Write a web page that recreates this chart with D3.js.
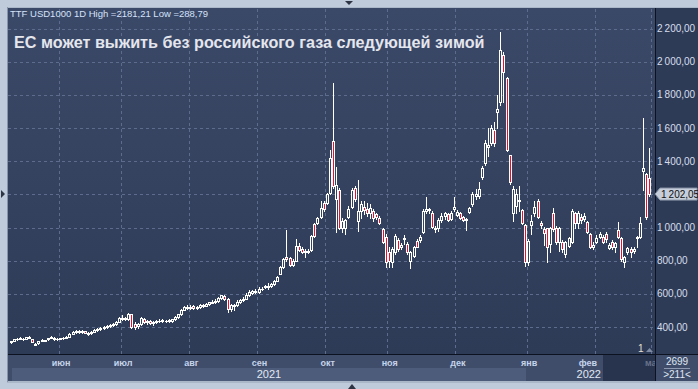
<!DOCTYPE html>
<html>
<head>
<meta charset="utf-8">
<script src="https://cdn.jsdelivr.net/npm/d3@7"></script>
<style>
  html, body { margin: 0; padding: 0; background: #bfcbdb; }
  svg { display: block; }
  text { font-family: "Liberation Sans", Arial, sans-serif; }
</style>
</head>
<body>
<svg id="chart" width="698" height="389"></svg>
<script>
// TTF USD/1000 m3, daily candles, mid-May 2021 .. end of Feb 2022
var open = [308,318,326,330,326,330,336,326,292,302,324,318,326,336,336,326,328,334,334,342,
  360,370,378,368,374,360,362,372,382,388,394,400,406,412,418,432,450,446,448,476,
  420,404,416,450,428,436,424,430,434,436,438,436,438,446,460,476,504,522,512,524,
  516,520,534,528,536,546,552,556,572,590,568,510,528,530,552,560,570,596,608,620,
  612,628,650,640,648,660,680,722,760,824,814,776,800,890,868,852,854,862,1020,1030,
  1062,1150,1150,1210,1524,1170,1226,1000,1000,1064,1124,1240,1040,1100,1125,1110,1090,1100,1080,1060,
  990,944,855,790,850,925,880,930,900,800,830,920,926,975,1098,1105,1090,990,1000,1045,
  1068,1080,1050,1115,1078,1088,1062,1046,1094,1140,1190,1190,1305,1392,1488,1512,1590,1700,1760,2040,
  1905,1436,1090,1130,1160,1104,1014,790,1018,1090,1160,1030,990,995,900,1090,995,910,912,840,
  890,915,1085,1030,1062,1050,1032,962,880,915,945,945,962,878,912,884,985,936,790,850,
  873,858,936,942,1340,1322,1300];
var high = [318,328,332,338,332,342,343,328,302,318,326,322,334,346,338,332,336,340,345,364,
  378,380,382,380,378,368,376,390,392,400,406,412,418,422,436,462,472,462,486,480,
  432,424,458,454,442,440,436,444,446,446,444,446,450,466,480,510,526,530,530,534,
  528,536,540,546,552,560,566,582,596,594,572,540,540,560,566,580,603,622,624,628,
  640,640,656,665,668,684,710,770,818,985,820,808,930,905,880,870,868,956,1030,1062,
  1160,1160,1210,1467,1870,1365,1240,1060,1050,1130,1240,1250,1290,1160,1160,1150,1140,1110,1090,1068,
  1000,960,880,880,960,935,905,955,910,860,890,930,955,1110,1184,1120,1100,1010,1060,1085,
  1095,1090,1100,1184,1105,1095,1070,1060,1125,1215,1230,1277,1370,1530,1600,1620,1640,1800,2181.21,2060,
  1910,1440,1250,1230,1250,1110,1020,930,1075,1160,1175,1040,1005,1000,1005,1120,1010,1005,925,920,
  945,1110,1095,1100,1080,1085,1040,970,910,955,975,955,975,905,925,915,1033,945,830,885,
  880,880,950,1063,1660,1330,1480];
var low = [306,316,323,328,324,328,333,310,288.79,300,316,316,324,334,322,322,326,330,332,340,
  358,366,362,364,362,352,358,370,378,384,390,396,402,408,414,428,444,440,444,396,
  388,392,412,424,420,418,414,426,428,430,430,432,432,442,454,472,500,506,508,510,
  506,514,520,524,532,542,546,552,566,560,490,498,504,524,546,556,566,590,602,604,
  608,622,634,630,642,656,676,718,754,800,770,770,796,860,846,820,845,858,942,1024,
  1058,1100,1140,1200,1240,975,990,975,963,1058,1120,1160,980,1060,1080,1070,1060,1040,1050,1020,
  905,760,760,760,840,860,870,900,840,755,820,880,915,965,1090,1085,995,975,980,1035,
  1050,1040,1045,1100,1070,1050,1040,985,1085,1130,1170,1180,1295,1380,1430,1500,1490,1600,1740,1760,
  1460,1260,1040,1090,1100,1020,770,775,960,1070,1060,1000,895,790,850,980,900,860,850,825,
  880,905,1000,1000,1030,1040,965,875,870,905,935,905,910,870,870,850,940,800,760,840,
  820,845,880,935,1226,1050,1190];
var close = [316,326,330,334,330,338,340,312,300,316,318,320,332,342,326,328,334,336,342,360,
  372,376,368,374,366,364,372,384,388,396,402,406,414,418,432,452,456,456,478,400,
  400,416,452,428,436,424,430,436,438,440,436,440,446,460,476,504,520,512,522,516,
  520,530,526,536,548,552,558,572,592,570,510,530,532,552,560,570,596,610,616,610,
  628,632,640,648,660,678,700,762,812,810,776,800,890,866,852,858,860,950,948,1056,
  1120,1110,1200,1420,1250,1256,1000,1040,1044,1115,1224,1170,1100,1140,1108,1090,1120,1060,1066,1030,
  912,790,796,870,950,870,895,935,850,850,880,885,945,1100,1112,1110,1005,1000,1044,1070,
  1085,1048,1090,1122,1095,1060,1048,1050,1116,1205,1205,1235,1362,1512,1496,1598,1512,1718,2070,1940,
  1470,1276,1230,1200,1165,1030,790,920,1042,1125,1066,1016,965,885,995,990,912,995,868,910,
  935,1100,1030,1085,1048,1072,975,885,892,940,960,915,928,892,884,905,946,808,820,875,
  854,872,942,1025,1362,1065,1202.05];

var monthLabels = ["июн","июл","авг","сен","окт","ноя","дек","янв","фев","мар"];
var monthStart = [16,36,58,80,102,122,144,167,189,207];
var yearLabels = ["2021","2022"];
var yearStart = [0,167];
var priceTicks = [400,600,800,1000,1200,1400,1600,1800,2000,2200];
var barsTotal = 2699, barsShown = 211;

var ru = d3.formatLocale({decimal: ",", thousands: "\u2009", grouping: [3]});
var fmt = ru.format(",.2f");
var fmtPlain = ru.format(".2f");

var svg = d3.select("#chart");

// plot box
var plot = {left: 8, right: 655, top: 8, bottom: 354};

var scales = {
  "x": d3.scaleLinear()
    .domain([0, 207])
    .range([10.5, 10.5 + 3.1 * 207]),
  "y": d3.scaleLinear()
    .domain([400, 2200])
    .range([327, 28.7])
};

var defs = svg.append("defs");
var g1 = defs.append("linearGradient")
  .attr("id", "plotbg").attr("x1", 0).attr("y1", 0).attr("x2", 0).attr("y2", 1);
g1.append("stop").attr("offset", 0).attr("stop-color", "#3b4968");
g1.append("stop").attr("offset", 1).attr("stop-color", "#2e3b57");
defs.append("clipPath").attr("id", "axclip")
  .append("rect").attr("x", 8).attr("y", 355).attr("width", 647).attr("height", 27);

// frame
svg.append("rect").attr("x", 0).attr("y", 0).attr("width", 698).attr("height", 389).attr("fill", "#bfcbdb");
svg.append("rect").attr("x", 7).attr("y", 7).attr("width", 691).attr("height", 376).attr("fill", "#aab7c9");
svg.append("rect")
  .attr("x", plot.left).attr("y", plot.top)
  .attr("width", 690).attr("height", plot.bottom - plot.top)
  .attr("fill", "url(#plotbg)");
// right price panel
svg.append("rect").attr("x", 656).attr("y", 8).attr("width", 42).attr("height", 346).attr("fill", "#2e3b57");

// time axis rows
svg.append("rect").attr("x", 8).attr("y", 355).attr("width", 690).attr("height", 26).attr("fill", "#3f4d6a");
svg.append("rect")
  .attr("x", 12).attr("y", 368)
  .attr("width", Math.round(scales.x(yearStart[1])) - 2 - 12).attr("height", 13)
  .attr("fill", "#4d5c7a");
svg.append("rect").attr("x", 603).attr("y", 355).attr("width", 52).attr("height", 26).attr("fill", "#28344d");

// grid
var grid = svg.append("g").attr("stroke", "#5d6c8c").attr("stroke-dasharray", "3,3").attr("stroke-width", 1);
grid.selectAll("line.h")
  .data(priceTicks).enter()
  .append("line").attr("class", "h")
  .attr("x1", plot.left).attr("x2", plot.right)
  .attr("y1", (d) => Math.round(scales.y(d)) + 0.5)
  .attr("y2", (d) => Math.round(scales.y(d)) + 0.5);
grid.selectAll("line.v")
  .data(monthStart).enter()
  .append("line").attr("class", "v")
  .attr("y1", plot.top + 1).attr("y2", plot.bottom)
  .attr("x1", (d) => Math.round(scales.x(d) - 1.5) + 0.5)
  .attr("x2", (d) => Math.round(scales.x(d) - 1.5) + 0.5);

// candles
var candles = d3.range(open.length).map((i) => ({
  i: i, o: open[i], h: high[i], l: low[i], c: close[i]
}));

var cg = svg.append("g");
candles.forEach(function(d) {
  var cx = Math.round(scales.x(d.i)) - 1;
  var yh = Math.round(scales.y(d.h)), yl = Math.round(scales.y(d.l));
  var yt = Math.round(scales.y(Math.max(d.o, d.c))), yb = Math.round(scales.y(Math.min(d.o, d.c)));
  cg.append("rect").attr("x", cx + 1).attr("y", yh).attr("width", 1).attr("height", Math.max(1, yl - yh + 1)).attr("fill", "#ffffff");
  cg.append("rect").attr("x", cx).attr("y", yt).attr("width", 3).attr("height", Math.max(1, yb - yt + 1)).attr("fill", "#ffffff");
  if (yb - yt >= 2) {
    cg.append("rect").attr("x", cx + 1).attr("y", yt + 1).attr("width", 1).attr("height", yb - yt - 1)
      .attr("fill", d.c < d.o ? "#e8102c" : "#34425f");
  }
});

// axis borders
svg.append("line").attr("x1", 655.5).attr("x2", 655.5).attr("y1", 8).attr("y2", 381).attr("stroke", "#0c1220");
svg.append("line").attr("x1", 8).attr("x2", 698).attr("y1", 354.5).attr("y2", 354.5).attr("stroke", "#0c1220");
svg.append("line").attr("x1", 7.5).attr("x2", 7.5).attr("y1", 7).attr("y2", 382).attr("stroke", "#8795ab");

// price labels (the one hidden under the last-price tag is skipped)
var lastClose = close[close.length - 1];
var lp = scales.y(lastClose);
svg.append("g").selectAll("text")
  .data(priceTicks.filter((d) => Math.abs(scales.y(d) - lp) > 10)).enter()
  .append("text")
  .attr("x", 657).attr("y", (d) => scales.y(d) + 3.5)
  .attr("font-size", "10px").attr("fill", "#d6deec")
  .text((d) => fmt(d));

// last price tag
svg.append("path")
  .attr("d", "M655," + lp + " L660," + (lp - 6) + " L697," + (lp - 6) + " L697," + (lp + 6) + " L660," + (lp + 6) + " Z")
  .attr("fill", "#c6cedb").attr("stroke", "#8a96a8");
svg.append("text").attr("x", 661).attr("y", lp + 3.5)
  .attr("font-size", "10px").attr("fill", "#101010")
  .text(fmt(lastClose));

// month labels
var ax = svg.append("g").attr("clip-path", "url(#axclip)");
ax.selectAll("text.m")
  .data(monthLabels).enter()
  .append("text").attr("class", "m")
  .attr("x", (d, k) => k === 8 ? 597 : (k === 9 ? 645 : scales.x(monthStart[k]) + 1))
  .attr("y", 366)
  .attr("text-anchor", (d, k) => k === 8 ? "end" : (k === 9 ? "start" : "middle"))
  .attr("font-size", "9px").attr("font-weight", "bold")
  .attr("fill", (d, k) => k === 9 ? "#66728c" : "#c6d4ea")
  .text((d) => d);
ax.append("text").attr("x", 269).attr("y", 378).attr("text-anchor", "middle")
  .attr("font-size", "11px").attr("fill", "#e2e8f4").text(yearLabels[0]);
ax.append("text").attr("x", 601).attr("y", 378).attr("text-anchor", "end")
  .attr("font-size", "11px").attr("fill", "#e2e8f4").text(yearLabels[1]);

// bar counter box
svg.append("text").attr("x", 677).attr("y", 365).attr("text-anchor", "middle")
  .attr("font-size", "10px").attr("fill", "#dfe6f2").text(barsTotal);
svg.append("line").attr("x1", 664).attr("x2", 690).attr("y1", 368.5).attr("y2", 368.5).attr("stroke", "#8c99b0");
svg.append("text").attr("x", 677).attr("y", 378).attr("text-anchor", "middle")
  .attr("font-size", "10px").attr("fill", "#dfe6f2").text(">" + barsShown + "<");

// pane number
svg.append("text").attr("x", 638).attr("y", 352).attr("font-size", "10px").attr("fill", "#e6e0d0").text("1");
svg.append("path").attr("d", "M646,352 L649.5,348 L653,352 Z").attr("fill", "#7d8aa2");

// header texts
svg.append("text").attr("x", 10).attr("y", 17)
  .attr("font-size", "9.5px").attr("fill", "#d4e2fa")
  .text("TTF USD1000 1D High =" + fmtPlain(d3.max(high)) + " Low =" + fmtPlain(d3.min(low)));
svg.append("text").attr("x", 14).attr("y", 47.5)
  .attr("font-size", "16.2px").attr("font-weight", "bold").attr("fill", "#e4e6ee")
  .text("ЕС может выжить без российского газа следующей зимой");

// window scroll markers
svg.append("path").attr("d", "M345,1 L353,1 L349,5 Z").attr("fill", "#2d3444");
svg.append("path").attr("d", "M348,389 L356,389 L352,384 Z").attr("fill", "#2d3444");
svg.append("path").attr("d", "M1,190 L1,198 L5,194 Z").attr("fill", "#2d3444");
</script>
</body>
</html>
